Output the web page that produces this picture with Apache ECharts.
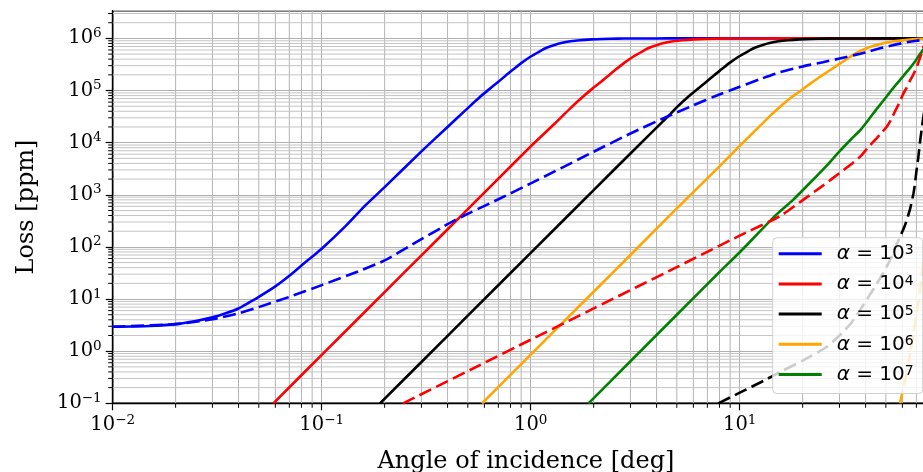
<!DOCTYPE html>
<html>
<head>
<meta charset="utf-8">
<script src="https://cdn.jsdelivr.net/npm/echarts@6/dist/echarts.min.js"></script>
<style>
html,body{margin:0;padding:0;background:#ffffff;}
#chart{width:923px;height:472px;}
</style>
</head>
<body>
<div id="chart"></div>
<script>
// ---------------- data ----------------
const X_MIN = 0.01, X_MAX = 90;      // angle of incidence [deg]
const Y_MIN = 0.1,  Y_MAX = 3.4e6;   // loss [ppm]

const xMinorTicks = [0.02,0.03,0.04,0.05,0.06,0.07,0.08,0.09,
                     0.2,0.3,0.4,0.5,0.6,0.7,0.8,0.9,
                     2,3,4,5,6,7,8,9,
                     20,30,40,50,60,70,80];
const yMinorTicks = [0.2,0.3,0.4,0.5,0.6,0.7,0.8,0.9,
                     2,3,4,5,6,7,8,9,
                     20,30,40,50,60,70,80,90,
                     200,300,400,500,600,700,800,900,
                     2000,3000,4000,5000,6000,7000,8000,9000,
                     2e4,3e4,4e4,5e4,6e4,7e4,8e4,9e4,
                     2e5,3e5,4e5,5e5,6e5,7e5,8e5,9e5,
                     2e6,3e6];

const alphaExponents = ['3','4','5','6','7'];
const seriesNames = ['α = 10^3','α = 10^4','α = 10^5','α = 10^6','α = 10^7'];
const seriesColors = ['#0000ff','#ff0000','#000000','#ffa500','#008000'];

// solid curves  [angle, loss]
const solidA3 = [[0.01,2.94],[0.015,3.05],[0.02,3.3],[0.025,3.8],[0.03,4.45],[0.035,5.4],[0.04,6.6],[0.045,8.6],[0.05,11],[0.06,17.5],[0.07,28],[0.08,44],[0.09,65],[0.1,92],[0.13,250],[0.16,600],[0.2,1400],[0.3,6800],[0.4,20000],[0.5,46000],[0.571,75000],[0.64,110000],[0.7,147000],[0.76,195000],[0.826,255000],[0.9,335000],[1.0,450000],[1.1,560000],[1.19,660000],[1.3,750000],[1.4,815000],[1.55,880000],[1.72,925000],[1.95,958000],[2.2,976000],[2.6,990000],[3,996000],[4,999000],[5,1000000],[10,1000000],[30,1000000],[90,1000000]];
const solidA4 = [[0.0587,0.1],[0.1,0.85],[0.2,13.6],[0.3,69],[0.5,530],[0.7,2040],[1.0,8500],[1.3,23000],[1.55,46000],[1.77,75000],[1.98,110000],[2.17,147000],[2.36,195000],[2.56,255000],[2.79,335000],[3.1,450000],[3.41,560000],[3.69,660000],[4.03,750000],[4.34,815000],[4.8,880000],[5.33,925000],[6.05,958000],[6.8,976000],[8,990000],[9.3,996000],[12.4,999000],[20,1000000],[90,1000000]];
const solidA5 = [[0.19,0.1],[0.3,0.62],[0.5,4.8],[1.0,77],[2.0,1230],[3.0,6200],[4.64,35000],[4.95,46000],[5.65,75000],[6.34,110000],[6.93,147000],[7.52,195000],[8.18,255000],[8.91,335000],[9.9,450000],[10.9,560000],[11.8,660000],[12.9,750000],[13.9,815000],[15.3,880000],[17,925000],[19.3,958000],[21.8,976000],[25.7,990000],[29.7,996000],[40,999000],[60,1000000],[90,1000000]];
const solidA6 = [[0.585,0.1],[1.0,0.86],[2.0,13.8],[3.0,70],[5.0,550],[8.0,3500],[10,8700],[12.5,21000],[14,33000],[15.6,49000],[17,66000],[18,78000],[20,106000],[22,140000],[24,180000],[26,222000],[28,270000],[30,325000],[32.5,400000],[35,490000],[37.5,570000],[40,635000],[42.5,695000],[45,748000],[48,800000],[52,850000],[55,880000],[58.5,905000],[62,930000],[65,948000],[70,970000],[75,985000],[90,1000000]];
const solidA7 = [[1.89,0.1],[3.0,0.64],[5.0,5.0],[8.0,33],[10,79],[15,420],[18,800],[22,1800],[26,3600],[30,6800],[34,11500],[38,18000],[42,30000],[45.3,45000],[48.5,63000],[52,90000],[55,120000],[58.5,160000],[61,195000],[63,230000],[65.5,275000],[67.8,330000],[70,395000],[72,470000],[74,545000],[75.2,600000],[77,680000]];

// dashed curves  [angle, loss]
const dashedA3 = [[0.01,2.94],[0.02,3.3],[0.03,4.1],[0.04,5.3],[0.05,7.0],[0.07,11],[0.1,18.5],[0.15,34],[0.2,55],[0.27,110],[0.43,320],[0.7,820],[1.0,1650],[2.0,6700],[3.0,15000],[4.48,31400],[6,52000],[7.5,76000],[10,118000],[12.5,165000],[15.6,225000],[20,290000],[25,350000],[30,410000],[35,475000],[40,540000],[47,645000],[54,740000],[60,810000],[65,860000],[70,900000],[75,930000],[77,945000]];
const dashedA4 = [[0.245,0.1],[0.571,0.54],[1.0,1.66],[2.0,6.6],[5.0,41],[10,165],[15.6,390],[20.1,800],[25,1500],[30,2600],[34,3800],[37.7,5400],[41,8000],[45,12000],[48,16000],[50.5,20200],[53,28000],[55,38000],[58,58000],[60.7,88000],[63,115000],[65,150000],[67.8,205000],[70.3,285000],[72.5,400000],[74,510000],[75.3,650000],[77,800000]];
const dashedA5 = [[7.9,0.1],[10,0.16],[13,0.27],[16,0.42],[20,0.66],[26,1.2],[30,2.0],[34,3.4],[37.7,6.2],[41,10.5],[45,19],[48,29],[50.5,42],[53,62],[55,90],[58.5,157],[61,230],[63,330],[65.5,560],[67.8,1070],[69,1700],[70,2800],[71.5,5200],[73,11000],[74.2,18000],[75.2,27000],[77,50000]];
const dashedA6 = [[58.5,0.1],[61,0.22],[63,0.4],[65.5,0.95],[67.8,2.2],[70,5],[71.5,8.5],[73,16],[74.2,27],[75.3,45],[77,80]];

const solidData  = [solidA3, solidA4, solidA5, solidA6, solidA7];
const dashedData = [dashedA3, dashedA4, dashedA5, dashedA6];

// ---------------- styling ----------------
const SERIF = "'DejaVu Serif', serif";
const SANS  = "'DejaVu Sans', sans-serif";
const GRID_COLOR = '#b0b0b0';
const GRID_MINOR_H = '#c4c4c4';
const GRID_MINOR_V = '#b4b4b4';

function powLabel(v) {
  const e = Math.log10(v);
  const r = Math.round(e);
  if (Math.abs(e - r) > 1e-6) return '';
  return '{b|10}{s|' + String(r).replace('-', '\u2212') + '}';
}
const tickRich = {
  b: { fontFamily: SERIF, fontSize: 19.5, lineHeight: 24, color: '#000' },
  s: { fontFamily: SERIF, fontSize: 13.5, lineHeight: 14, verticalAlign: 'top', color: '#000' }
};

function vGrid(params, api) {
  const v = api.value(0);
  const a = api.coord([v, Y_MIN]);
  const b = api.coord([v, Y_MAX]);
  return { type: 'group', children: [
    { type: 'line', shape: { x1: a[0], y1: a[1], x2: b[0], y2: b[1] }, style: { stroke: GRID_MINOR_V, lineWidth: 1 } },
    { type: 'line', shape: { x1: a[0], y1: a[1], x2: a[0], y2: a[1] + 4.5 }, style: { stroke: '#000', lineWidth: 1 } }
  ]};
}
function hGrid(params, api) {
  const v = api.value(1);
  const a = api.coord([X_MIN, v]);
  const b = api.coord([X_MAX, v]);
  return { type: 'group', children: [
    { type: 'line', shape: { x1: a[0], y1: a[1], x2: b[0], y2: b[1] }, style: { stroke: GRID_MINOR_H, lineWidth: 1 } },
    { type: 'line', shape: { x1: a[0] - 4.5, y1: a[1], x2: a[0], y2: a[1] }, style: { stroke: '#000', lineWidth: 1 } }
  ]};
}

const series = [
  { type: 'custom', name: 'xminor', silent: true, clip: false, z: 1,
    renderItem: vGrid, data: xMinorTicks.map(v => [v, Y_MIN]) },
  { type: 'custom', name: 'yminor', silent: true, clip: false, z: 1,
    renderItem: hGrid, data: yMinorTicks.map(v => [X_MIN, v]) }
];
solidData.forEach((d, i) => {
  series.push({
    type: 'line', name: seriesNames[i], data: d, showSymbol: false, symbol: 'none',
    smooth: 0.2, z: 3, color: seriesColors[i],
    lineStyle: { color: seriesColors[i], width: 2.6 }
  });
});
dashedData.forEach((d, i) => {
  series.push({
    type: 'line', name: seriesNames[i] + ' dashed', data: d, showSymbol: false, symbol: 'none',
    smooth: 0.2, z: 3, color: seriesColors[i],
    lineStyle: { color: seriesColors[i], width: 2.6, type: [13, 5.5] }
  });
});

const chart = echarts.init(document.getElementById('chart'), null, { renderer: 'canvas' });
chart.setOption({
  animation: false,
  backgroundColor: '#ffffff',
  grid: { left: 112.7, top: 10.7, width: 826.5, height: 392.6,
          containLabel: false, outerBoundsMode: 'none',
          show: true, borderColor: '#000', borderWidth: 1.4, backgroundColor: 'transparent' },
  xAxis: {
    type: 'log', logBase: 10, min: X_MIN, max: X_MAX,
    name: 'Angle of incidence [deg]', nameLocation: 'middle', nameGap: 46,
    nameTextStyle: { fontFamily: SERIF, fontSize: 24, color: '#000' },
    axisLine: { show: true, lineStyle: { color: '#000', width: 1.4 } },
    axisTick: { show: true, length: 7, lineStyle: { color: '#000', width: 1.2 } },
    axisLabel: { margin: 10, formatter: powLabel, rich: tickRich, showMaxLabel: false },
    splitLine: { show: true, lineStyle: { color: GRID_COLOR, width: 1 } },
    minorTick: { show: false }, minorSplitLine: { show: false }
  },
  yAxis: {
    type: 'log', logBase: 10, min: Y_MIN, max: Y_MAX,
    name: 'Loss [ppm]', nameLocation: 'middle', nameGap: 74,
    nameTextStyle: { fontFamily: SERIF, fontSize: 24, color: '#000' },
    axisLine: { show: true, lineStyle: { color: '#000', width: 1.4 } },
    axisTick: { show: true, length: 7, lineStyle: { color: '#000', width: 1.2 } },
    axisLabel: { margin: 11, formatter: powLabel, rich: tickRich, showMaxLabel: false },
    splitLine: { show: true, lineStyle: { color: GRID_COLOR, width: 1 } },
    minorTick: { show: false }, minorSplitLine: { show: false }
  },
  legend: {
    data: seriesNames.map(n => ({ name: n, icon: 'rect' })),
    orient: 'vertical', left: 772.7, top: 237.7,
    itemWidth: 43, itemHeight: 3, itemGap: 10.2,
    padding: [6, 9, 9, 6],
    backgroundColor: 'rgba(255,255,255,0.8)', borderColor: '#d0d0d0', borderWidth: 1, borderRadius: 4,
    formatter: function (name) {
      const i = seriesNames.indexOf(name);
      return '{a|α}{t| = 10}{s|' + alphaExponents[i] + '}';
    },
    textStyle: {
      padding: [0, 0, 0, 10],
      rich: {
        a: { fontFamily: SANS, fontStyle: 'italic', fontSize: 20, lineHeight: 20, color: '#000' },
        t: { fontFamily: SANS, fontSize: 20, lineHeight: 20, color: '#000' },
        s: { fontFamily: SANS, fontSize: 14, lineHeight: 12, verticalAlign: 'top', color: '#000' }
      }
    }
  },
  series: series
});
</script>
</body>
</html>
